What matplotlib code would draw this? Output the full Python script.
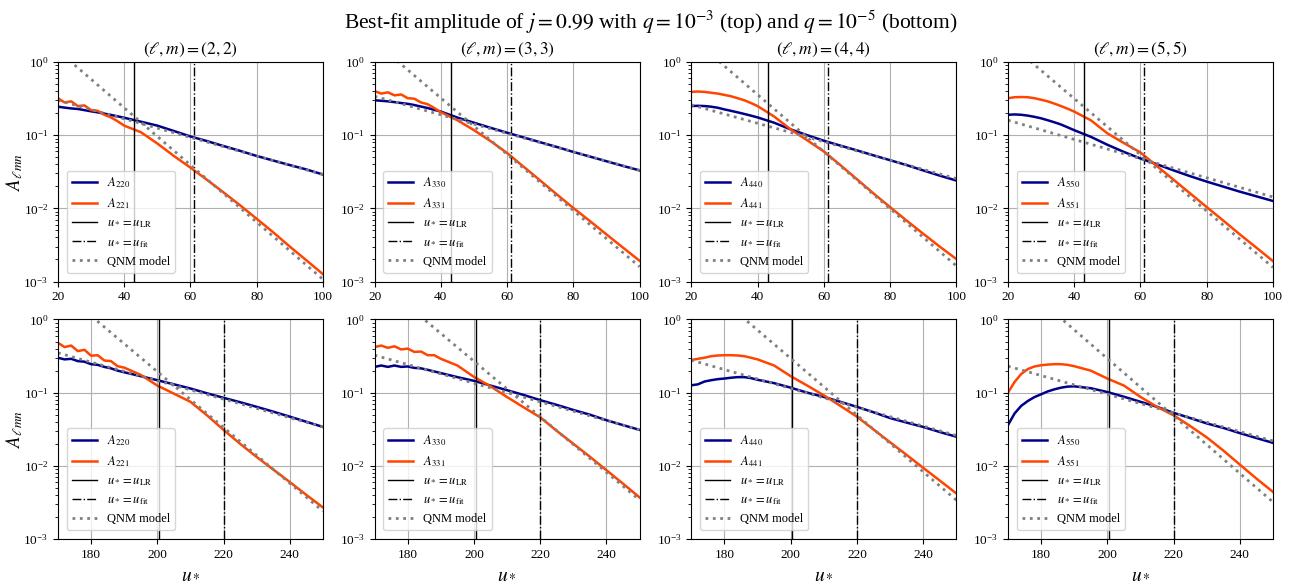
import matplotlib.pyplot as plt

plt.rcParams["font.family"] = ["Liberation Serif", "DejaVu Serif"]
plt.rcParams["mathtext.fontset"] = "stix"

# u_* sample points: q = 1e-3 (top row) and q = 1e-5 (bottom row)
u_top = [20, 22, 24, 26, 28, 30, 32, 34, 36, 38, 40,
         45, 50, 55, 60, 65, 70, 75, 80, 85, 90, 95, 100]
u_bot = [170, 172, 174, 176, 178, 180, 182, 184, 186, 188, 190,
         195, 200, 205, 210, 215, 220, 225, 230, 235, 240, 245, 250]

# QNM model is straight on a log axis, so the two end points are enough
u_top_ends = [20, 100]
u_bot_ends = [170, 250]

u_lr_top, u_fit_top = 43.1, 61.2
u_lr_bot, u_fit_bot = 200.5, 220.0

# ---- top row (q = 1e-3) ----
A220_top = [0.245, 0.238, 0.232, 0.228, 0.220, 0.212, 0.205, 0.197, 0.189, 0.181, 0.173,
            0.153, 0.135, 0.114, 0.096, 0.083, 0.071, 0.061, 0.052, 0.045, 0.039, 0.034, 0.029]
A221_top = [0.32, 0.28, 0.29, 0.25, 0.255, 0.22, 0.215, 0.19, 0.175, 0.155, 0.135,
            0.11, 0.077, 0.052, 0.036, 0.0245, 0.0165, 0.011, 0.0072, 0.0047, 0.0030, 0.00195, 0.00126]
A330_top = [0.30, 0.295, 0.29, 0.283, 0.275, 0.268, 0.258, 0.246, 0.235, 0.222, 0.21,
            0.174, 0.148, 0.126, 0.108, 0.093, 0.080, 0.069, 0.059, 0.051, 0.044, 0.038, 0.033]
A331_top = [0.40, 0.37, 0.385, 0.35, 0.36, 0.32, 0.315, 0.28, 0.265, 0.235, 0.206,
            0.16, 0.117, 0.083, 0.057, 0.037, 0.024, 0.0155, 0.0101, 0.0067, 0.0044, 0.0029, 0.00192]
A440_top = [0.25, 0.252, 0.25, 0.245, 0.237, 0.225, 0.215, 0.205, 0.195, 0.185, 0.175,
            0.148, 0.12, 0.10, 0.084, 0.072, 0.062, 0.053, 0.0455, 0.039, 0.033, 0.028, 0.024]
A441_top = [0.39, 0.395, 0.39, 0.38, 0.37, 0.355, 0.34, 0.32, 0.30, 0.275, 0.25,
            0.18, 0.12, 0.085, 0.060, 0.039, 0.025, 0.016, 0.0104, 0.0068, 0.0045, 0.0030, 0.00203]
A550_top = [0.19, 0.192, 0.19, 0.185, 0.178, 0.17, 0.16, 0.15, 0.14, 0.128, 0.117,
            0.095, 0.074, 0.059, 0.048, 0.040, 0.033, 0.0275, 0.0232, 0.0198, 0.0169, 0.0146, 0.0126]
A551_top = [0.32, 0.33, 0.332, 0.33, 0.32, 0.305, 0.29, 0.27, 0.25, 0.23, 0.21,
            0.16, 0.106, 0.078, 0.058, 0.0377, 0.0246, 0.016, 0.0104, 0.0068, 0.0044, 0.0029, 0.0019]

Q220_top = [0.30, 0.029]
Q221_top = [1.43, 0.00107]
Q330_top = [0.34, 0.033]
Q331_top = [1.89, 0.00159]
Q440_top = [0.26, 0.0255]
Q441_top = [2.16, 0.00164]
Q550_top = [0.16, 0.0143]
Q551_top = [1.86, 0.00156]

# ---- bottom row (q = 1e-5) ----
A220_bot = [0.30, 0.285, 0.29, 0.27, 0.265, 0.245, 0.24, 0.225, 0.215, 0.20, 0.19,
            0.168, 0.148, 0.13, 0.114, 0.098, 0.085, 0.074, 0.064, 0.055, 0.047, 0.040, 0.034]
A221_bot = [0.48, 0.42, 0.44, 0.37, 0.385, 0.32, 0.325, 0.275, 0.27, 0.23, 0.22,
            0.175, 0.125, 0.097, 0.075, 0.049, 0.031, 0.020, 0.0132, 0.0089, 0.006, 0.004, 0.0027]
A330_bot = [0.225, 0.235, 0.225, 0.235, 0.225, 0.228, 0.218, 0.215, 0.205, 0.195, 0.185,
            0.163, 0.145, 0.125, 0.108, 0.093, 0.079, 0.068, 0.058, 0.050, 0.042, 0.036, 0.031]
A331_bot = [0.42, 0.44, 0.41, 0.43, 0.39, 0.40, 0.36, 0.365, 0.325, 0.325, 0.29,
            0.235, 0.164, 0.122, 0.087, 0.063, 0.046, 0.030, 0.020, 0.0133, 0.0087, 0.0057, 0.0037]
A440_bot = [0.126, 0.13, 0.142, 0.148, 0.153, 0.156, 0.16, 0.163, 0.163, 0.158, 0.15,
            0.135, 0.117, 0.10, 0.0875, 0.075, 0.064, 0.054, 0.045, 0.039, 0.034, 0.029, 0.025]
A441_bot = [0.28, 0.29, 0.30, 0.315, 0.322, 0.325, 0.325, 0.322, 0.315, 0.30, 0.285,
            0.235, 0.168, 0.125, 0.092, 0.066, 0.047, 0.0314, 0.021, 0.0141, 0.0094, 0.0063, 0.0042]
A550_bot = [0.036, 0.052, 0.066, 0.077, 0.087, 0.095, 0.104, 0.111, 0.117, 0.121, 0.122,
            0.115, 0.102, 0.088, 0.075, 0.064, 0.053, 0.045, 0.038, 0.033, 0.028, 0.024, 0.0206]
A551_bot = [0.10, 0.14, 0.18, 0.21, 0.228, 0.237, 0.242, 0.245, 0.245, 0.24, 0.23,
            0.20, 0.156, 0.125, 0.0875, 0.064, 0.049, 0.035, 0.0245, 0.0162, 0.0104, 0.0067, 0.0044]

Q220_bot = [0.35, 0.034]
Q221_bot = [2.7, 0.0024]
Q330_bot = [0.325, 0.031]
Q331_bot = [3.7, 0.0034]
Q440_bot = [0.278, 0.026]
Q441_bot = [4.27, 0.0034]
Q550_bot = [0.23, 0.0219]
Q551_bot = [4.4, 0.0032]

modes = [2, 3, 4, 5]

rows = [
    dict(u=u_top, ends=u_top_ends, lr=u_lr_top, fit=u_fit_top, xlim=(20, 100),
         xticks=[20, 40, 60, 80, 100],
         fund=[A220_top, A330_top, A440_top, A550_top],
         over=[A221_top, A331_top, A441_top, A551_top],
         qfund=[Q220_top, Q330_top, Q440_top, Q550_top],
         qover=[Q221_top, Q331_top, Q441_top, Q551_top]),
    dict(u=u_bot, ends=u_bot_ends, lr=u_lr_bot, fit=u_fit_bot, xlim=(170, 250),
         xticks=[180, 200, 220, 240],
         fund=[A220_bot, A330_bot, A440_bot, A550_bot],
         over=[A221_bot, A331_bot, A441_bot, A551_bot],
         qfund=[Q220_bot, Q330_bot, Q440_bot, Q550_bot],
         qover=[Q221_bot, Q331_bot, Q441_bot, Q551_bot]),
]

fig, axes = plt.subplots(2, 4, figsize=(13.02, 5.86), dpi=100)
fig.subplots_adjust(left=0.0445, right=0.9777, bottom=0.0802, top=0.8942,
                    wspace=0.195, hspace=0.173)

for r, row in enumerate(rows):
    for c, l in enumerate(modes):
        ax = axes[r, c]
        ax.plot(row["u"], row["fund"][c], color="darkblue", lw=1.8,
                label=rf"$A_{{{l}{l}0}}$")
        ax.plot(row["u"], row["over"][c], color="orangered", lw=1.8,
                label=rf"$A_{{{l}{l}1}}$")
        ax.axvline(row["lr"], color="k", lw=1, ls="-", label=r"$u_*=u_{\rm LR}$")
        ax.axvline(row["fit"], color="k", lw=1, ls="-.", label=r"$u_*=u_{\rm fit}$")
        ax.plot(row["ends"], row["qfund"][c], color="grey", lw=2, ls=":",
                label="QNM model")
        ax.plot(row["ends"], row["qover"][c], color="grey", lw=2, ls=":")

        ax.set_yscale("log")
        ax.set_ylim(1e-3, 1)
        ax.set_xlim(*row["xlim"])
        ax.set_xticks(row["xticks"])
        ax.tick_params(labelsize=9.5)
        ax.grid(True)
        ax.legend(loc="lower left", fontsize=9, borderaxespad=0.7)

        if r == 0:
            ax.set_title(rf"$(\ell, m) = ({l}, {l})$", fontsize=12.5)
        else:
            ax.set_xlabel(r"$u_*$", fontsize=14)
        if c == 0:
            ax.set_ylabel(r"$A_{\ell mn}$", fontsize=13.5)
            ax.yaxis.set_label_coords(-0.125, 0.5)

fig.suptitle(r"Best-fit amplitude of $j = 0.99$ with $q = 10^{-3}$ (top) and "
             r"$q = 10^{-5}$ (bottom)", fontsize=15.5, y=0.985)

fig.savefig("out.png", dpi=100)
